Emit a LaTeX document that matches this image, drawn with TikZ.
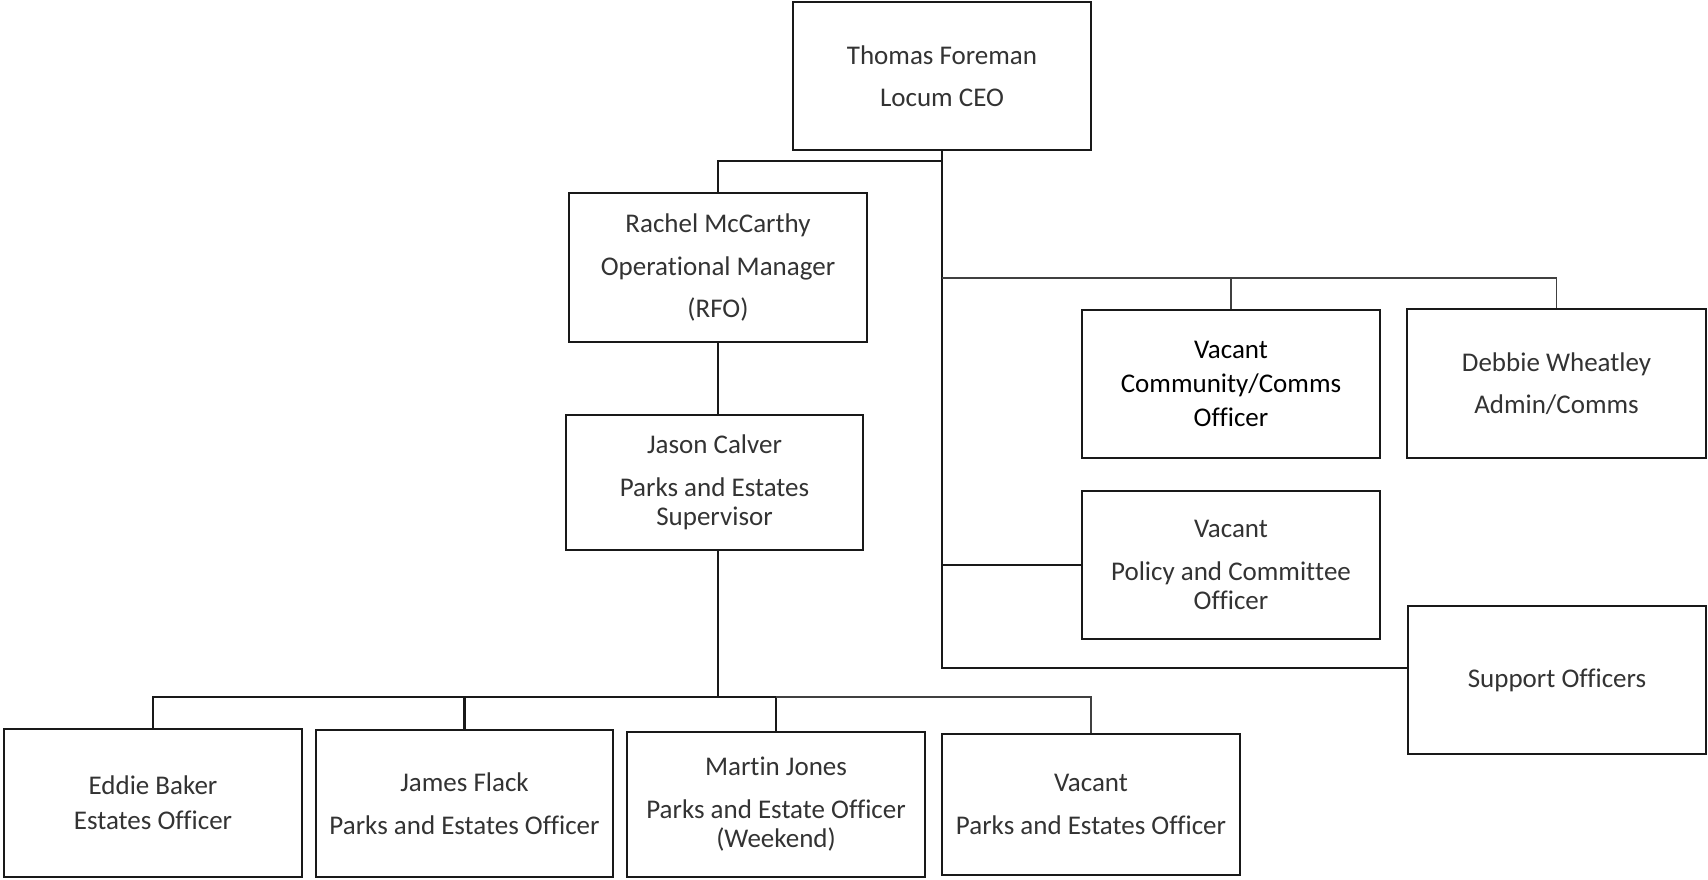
\documentclass[tikz,border=0pt]{standalone}
\usepackage{fontspec}
\setmainfont[RawFeature={-liga;-clig;-calt;-dlig}]{Carlito}
\newcommand\tiNoLig{t\kern0pt i}
\newcommand\ttNoLig{t\kern0pt t}
\begin{document}
\begin{tikzpicture}[x=1pt,y=-1pt,
  box/.style={draw=black!90, line width=2.8pt, minimum width=298pt, minimum height=148pt,
    inner sep=0pt, align=center, text=black!80, font=\fontsize{27}{29.4}\selectfont},
  link/.style={draw=black!90, line width=2.8pt},
  thinlink/.style={draw=black!75, line width=1.8pt}]
\useasboundingbox (0,0) rectangle (1708,879);
% boxes
\node[box] (ceo) at (942,76) {Thomas Foreman\\[13.1pt]Locum CEO};
\node[box, minimum height=149pt] (rachel) at (718,267.5) {Rachel McCarthy\\[13.1pt]Opera\tiNoLig onal Manager\\[13.1pt](RFO)};
\node[box, minimum width=297pt, minimum height=135pt] (jason) at (714.5,482.5) {Jason Calver\\[13.1pt]Parks and Estates\\Supervisor};
\node[box, text=black] (comms) at (1231,384) {Vacant\\[4.5pt]Community/Comms\\[4.5pt]Officer};
\node[box, minimum width=299pt, minimum height=149pt] (debbie) at (1556.5,383.5) {Debbie Wheatley\\[13.1pt]Admin/Comms};
\node[box] (policy) at (1231,565) {Vacant\\[13.1pt]Policy and Commi\ttNoLig ee\\Officer};
\node[box] (support) at (1557,680) {Support Officers};
\node[box] (eddie) at (153,803) {Eddie Baker\\[5.5pt]Estates Officer};
\node[box, minimum width=297pt, minimum height=147pt] (james) at (464.5,803.5) {James Flack\\[13.1pt]Parks and Estates Officer};
\node[box, minimum height=145pt] (martin) at (776,804.5) {Martin Jones\\[13.1pt]Parks and Estate Officer\\(Weekend)};
\node[box, minimum height=141pt] (vacp) at (1091,804.5) {Vacant\\[13.1pt]Parks and Estates Officer};
% bus coordinates
\coordinate (busR) at (0,161);
\coordinate (busT) at (0,278);
\coordinate (busB) at (0,697);
\coordinate (jtrunk) at (718,0);
% CEO trunk to support officers
\draw[link] (ceo.south) |- ([yshift=12pt]support.west);
% to Rachel
\draw[link] (ceo.south |- busR) -| (rachel.north);
% top bus to comms and debbie
\draw[thinlink] (ceo.south |- busT) -| (debbie.north);
\draw[thinlink] (comms.north |- busT) -- (comms.north);
% to policy
\draw[link] (ceo.south |- policy.west) -- (policy.west);
% Rachel to Jason
\draw[link] (rachel.south) -- (rachel.south |- jason.north);
% Jason to bottom bus
\draw[link] (jtrunk |- jason.south) -- (jtrunk |- busB);
\draw[link] (eddie.north) |- (martin.north |- busB) -- (martin.north);
\draw[link] (james.north |- busB) -- (james.north);
\draw[thinlink] (martin.north |- busB) -| (vacp.north);
\end{tikzpicture}
\end{document}
